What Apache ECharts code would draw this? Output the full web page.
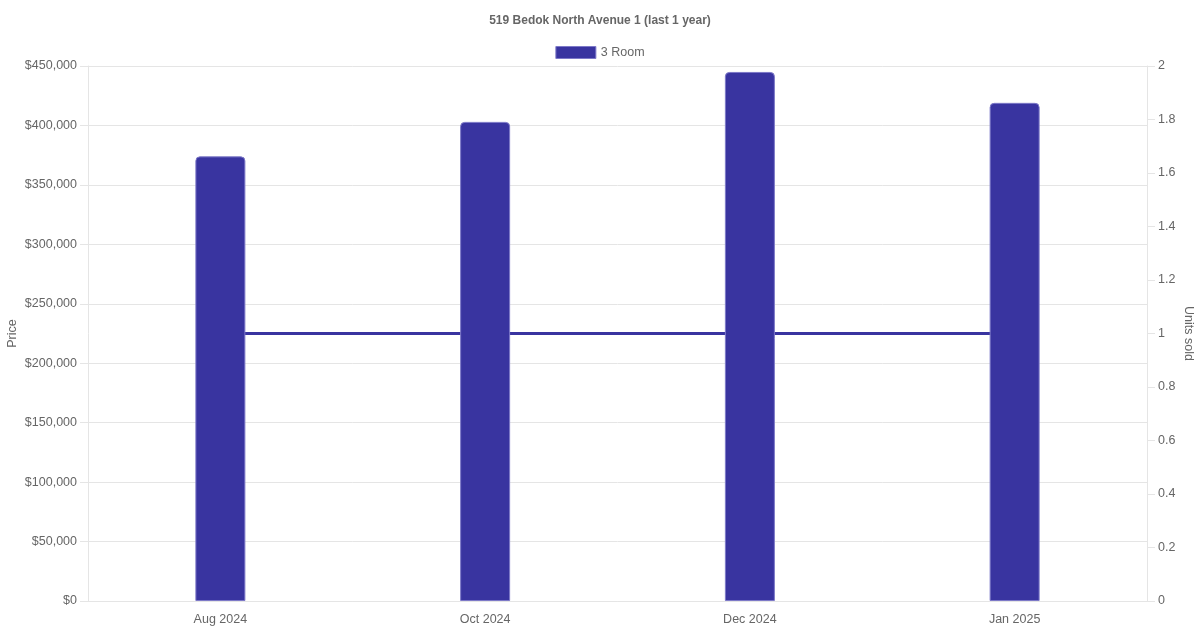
<!DOCTYPE html>
<html>
<head>
<meta charset="utf-8">
<script src="https://cdn.jsdelivr.net/npm/echarts@6/dist/echarts.min.js"></script>
<style>
  html, body { margin: 0; padding: 0; background: #fff; }
  #chart { width: 1200px; height: 630px; }
</style>
</head>
<body>
<div id="chart"></div>
<script>
// données
const months = ["Aug 2024", "Oct 2024", "Dec 2024", "Jan 2025"];
const prices = [374000, 403000, 445000, 419000];
const unitsSold = [1, 1, 1, 1];

const textColor = "#666";
const gridColor = "#e5e5e5";
const barColor = "#3934a0";

const chart = echarts.init(document.getElementById("chart"));
chart.setOption({
	animation: false,
	textStyle: { fontFamily: "Liberation Sans, Arial, sans-serif" },
	title: {
		text: "519 Bedok North Avenue 1 (last 1 year)",
		left: "center",
		top: 10,
		textStyle: { fontSize: 12, fontWeight: "bold", color: textColor },
	},
	legend: {
		data: [{ name: "3 Room", icon: "rect" }],
		top: 41,
		left: "center",
		itemWidth: 40,
		itemHeight: 12,
		itemGap: 10,
		itemStyle: { borderColor: "#7d79c8", borderWidth: 1, borderRadius: 0 },
		textStyle: { fontSize: 12.5, color: textColor },
	},
	grid: { left: 88, right: 53, top: 66, bottom: 29, containLabel: false, outerBoundsMode: "none" },
	xAxis: {
		type: "category",
		data: months,
		axisLine: { lineStyle: { color: gridColor } },
		axisTick: { show: false },
		axisLabel: { color: textColor, fontSize: 12.5, margin: 12 },
	},
	yAxis: [
		{
			type: "value",
			name: "Price",
			nameLocation: "middle",
			nameGap: 69,
			nameMoveOverlap: false,
			nameTextStyle: { color: textColor, fontSize: 12.5 },
			min: 0,
			max: 450000,
			interval: 50000,
			axisLine: { show: true, lineStyle: { color: gridColor } },
			axisTick: { show: true, length: 8, lineStyle: { color: gridColor } },
			splitLine: { lineStyle: { color: gridColor } },
			axisLabel: {
				color: textColor,
				fontSize: 12.5,
				margin: 11,
				padding: [3, 0, 0, 0],
				formatter: (v) => "$" + v.toLocaleString("en-US"),
			},
		},
		{
			type: "value",
			name: "Units sold",
			nameLocation: "middle",
			nameGap: 35,
			nameMoveOverlap: false,
			nameRotate: -90,
			nameTextStyle: { color: textColor, fontSize: 12.5 },
			min: 0,
			max: 2,
			interval: 0.2,
			position: "right",
			axisLine: { show: true, lineStyle: { color: gridColor } },
			axisTick: { show: true, length: 8, lineStyle: { color: gridColor } },
			splitLine: { show: false },
			axisLabel: { color: textColor, fontSize: 12.5, margin: 11, padding: [3, 0, 0, 0] },
		},
	],
	series: [
		{
			name: "3 Room",
			type: "bar",
			data: prices,
			barWidth: 50,
			z: 3,
			itemStyle: {
				color: barColor,
				borderColor: "#7d79c8",
				borderWidth: 1,
				borderRadius: [4, 4, 0, 0],
			},
		},
		{
			name: "Units sold",
			type: "line",
			yAxisIndex: 1,
			data: unitsSold,
			showSymbol: false,
			symbol: "none",
			z: 2,
			lineStyle: { color: barColor, width: 3 },
			itemStyle: { color: barColor },
		},
	],
});
</script>
</body>
</html>
